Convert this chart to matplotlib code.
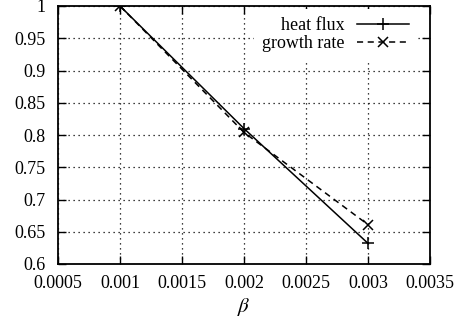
import matplotlib
matplotlib.use('Agg')
import matplotlib.pyplot as plt

beta = [0.001, 0.002, 0.003]
heat_flux = [1.0, 0.810, 0.632]
growth_rate = [1.0, 0.804, 0.661]

xticks = [0.0005, 0.001, 0.0015, 0.002, 0.0025, 0.003, 0.0035]
xticklabels = ['0.0005', '0.001', '0.0015', '0.002', '0.0025', '0.003', '0.0035']
yticks = [0.6, 0.65, 0.7, 0.75, 0.8, 0.85, 0.9, 0.95, 1.0]
yticklabels = ['0.6', '0.65', '0.7', '0.75', '0.8', '0.85', '0.9', '0.95', '1']

plt.rcParams['font.family'] = ['Liberation Serif', 'DejaVu Serif']
plt.rcParams['mathtext.fontset'] = 'stix'

fig = plt.figure(figsize=(4.63, 3.29), dpi=100)
ax = fig.add_axes([58/463, 65/329, (430-58)/463, (264-6)/329])

ax.plot(beta, heat_flux, color='black', lw=1.1, ls='-', marker='+', ms=9, mew=1.1,
        label='heat flux', zorder=3)
ax.plot(beta, growth_rate, color='black', lw=1.1, ls=(0, (4, 3)), marker='x', ms=7, mew=1.1,
        label='growth rate', zorder=3)

ax.set_xlim(0.0005, 0.0035)
ax.set_ylim(0.6, 1.0)
ax.set_xticks(xticks)
ax.set_xticklabels(xticklabels)
ax.set_yticks(yticks)
ax.set_yticklabels(yticklabels)
ax.tick_params(direction='in', length=6, width=1, top=True, right=True, labelsize=13)
ax.tick_params(axis='x', pad=8)
ax.tick_params(axis='y', pad=9)
ax.grid(True, color='black', ls=(0, (1, 3)), lw=0.9)
ax.set_axisbelow(True)
for s in ax.spines.values():
    s.set_linewidth(1.3)

ax.set_xlabel(r'$\beta$', fontsize=15, labelpad=3)

leg = ax.legend(loc='upper right', bbox_to_anchor=((417-58)/372, 1 - 3/258), frameon=True, fontsize=13,
                handlelength=2.9, handletextpad=0.65, borderaxespad=0, labelspacing=0.05,
                markerfirst=False, fancybox=False, borderpad=0.45)
leg.get_frame().set_edgecolor('none')
leg.get_frame().set_facecolor('white')
leg.get_frame().set_alpha(1)
leg.set_zorder(2.4)

fig.savefig('out.png', dpi=100)
